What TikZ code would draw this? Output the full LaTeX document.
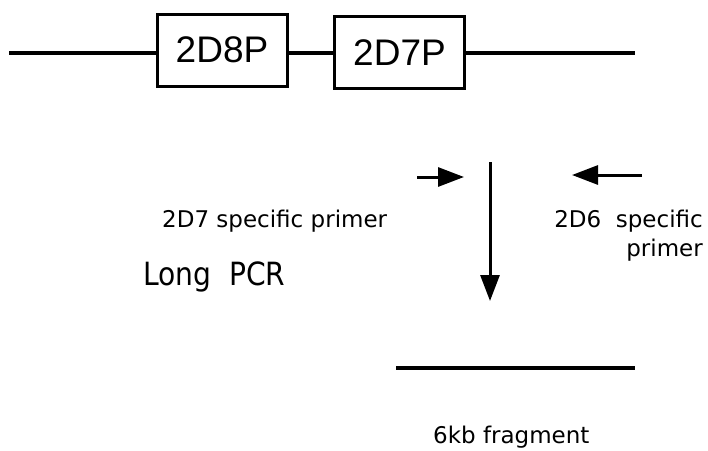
\documentclass[tikz,border=0pt]{standalone}
\usepackage{fontspec}
\usepackage{graphicx}
\setmainfont{DejaVu Sans}
\newfontfamily\boxfont{Liberation Sans}
\usetikzlibrary{arrows.meta}
\begin{document}
\begin{tikzpicture}[x=1pt,y=-1pt,
  gene/.style={draw,line width=3pt,minimum width=130pt,minimum height=72pt,inner sep=0pt,
    font=\boxfont\fontsize{37}{40}\selectfont},
  dna/.style={line width=3.4pt},
  arr/.style={line width=3pt,-{Triangle[length=26pt,width=19pt]}},
  lbl/.style={inner sep=0pt,font=\fontsize{23}{28}\selectfont},
  big/.style={inner sep=0pt,font=\fontsize{32}{36}\selectfont}]
\useasboundingbox (0,0) rectangle (708,450);
% gene boxes
\node[gene] (g8) at (222,50) {2D8P};
\node[gene] (g7) at (399.5,52.5) {2D7P};
\coordinate (l0) at (9,53);
\coordinate (r0) at (635,53);
\draw[dna] (l0) -- (l0 -| g8.west);
\draw[dna] (g8.east |- 0,53) -- (g7.west |- 0,53);
\draw[dna] (g7.east |- 0,53) -- (r0);
% primers
\coordinate (p1s) at (417,177);
\coordinate (p1e) at (464,177);
\draw[arr] (p1s) -- (p1e);
\coordinate (p2s) at (642,175);
\coordinate (p2e) at (572,175);
\draw[arr] (p2s) -- (p2e);
% PCR arrow
\coordinate (vs) at (490,162);
\coordinate (ve) at (490,301);
\draw[arr] (vs) -- (ve);
% product
\coordinate (f0) at (396,368);
\coordinate (f1) at (635,368);
\draw[dna] (f0) -- (f1);
% labels
\node[lbl,anchor=base west] (t7) at (162,227) {2D7 specific primer};
\node[lbl,anchor=base east] (t6) at (703,227) {2D6\ \ specific};
\node[lbl,anchor=base east] (t6b) at (703,256) {primer};
\node[big,anchor=base west] (lp) at (143,285) {\scalebox{0.88}[1]{Long\ \ PCR}};
\node[lbl,anchor=base west] (fr) at (433,443) {6kb fragment};
\end{tikzpicture}
\end{document}
